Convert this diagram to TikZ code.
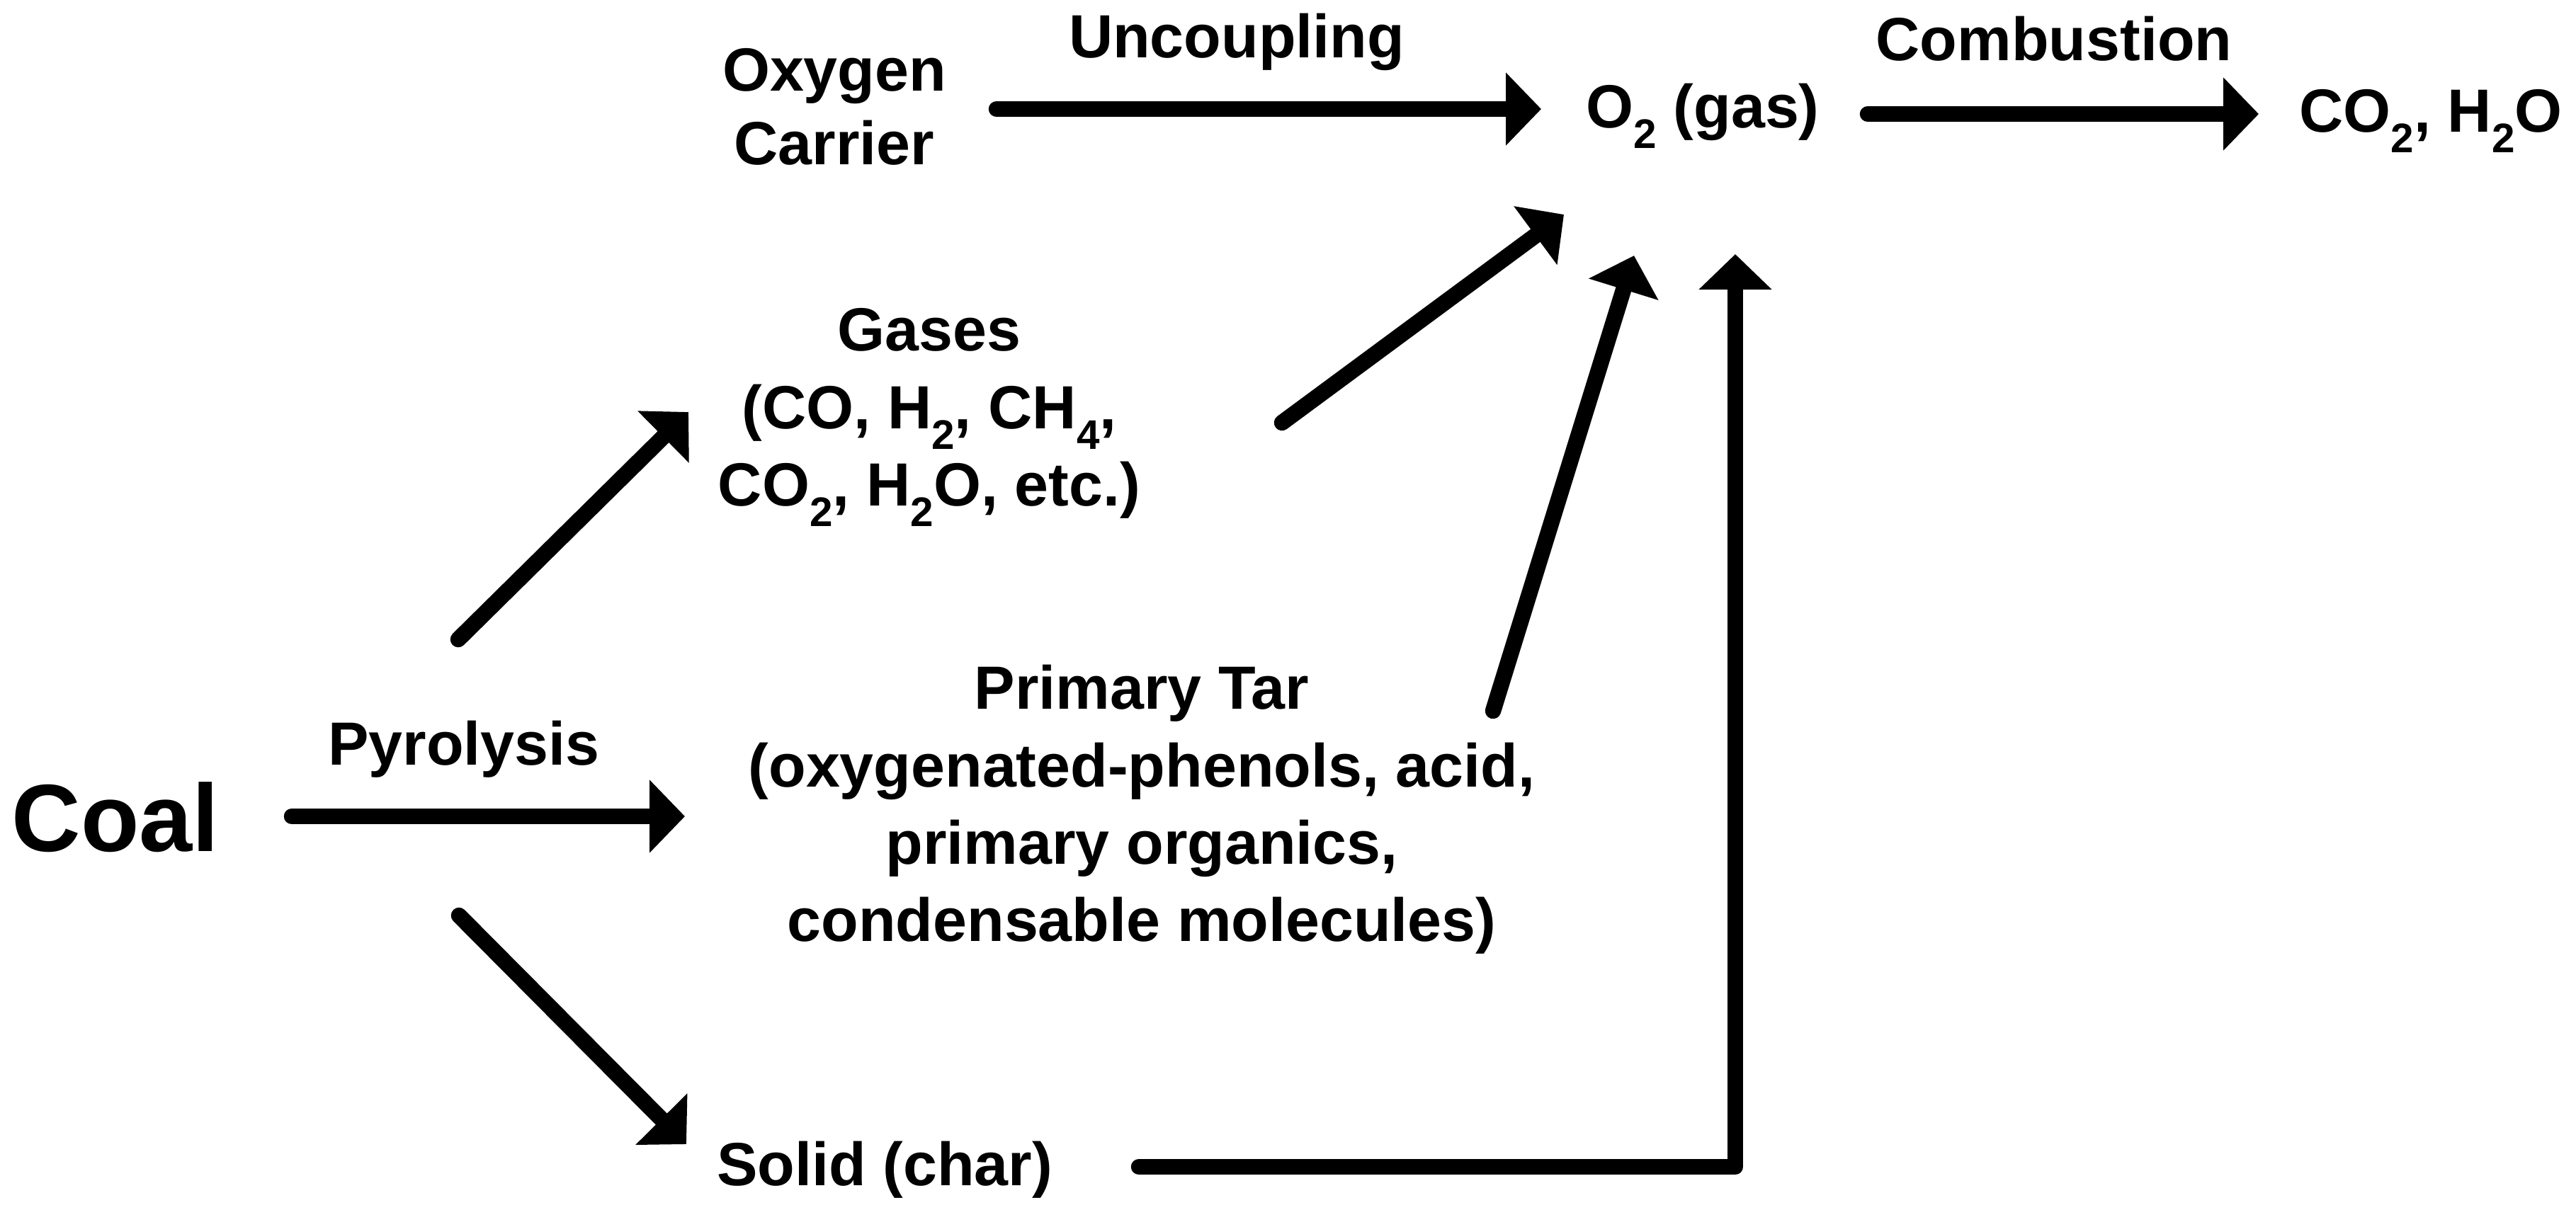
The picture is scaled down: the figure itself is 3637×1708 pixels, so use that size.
\documentclass[tikz,border=0pt]{standalone}
\usepackage{fontspec}
\setmainfont{Liberation Sans}
\usetikzlibrary{arrows.meta}
\newcommand\chemsub[1]{\raisebox{-0.34em}{\fontsize{16.6pt}{16.6pt}\selectfont #1}}
\begin{document}
\begin{tikzpicture}[x=0.01cm,y=-0.01cm,
  lbl/.style={inner sep=0pt, anchor=base, align=center,
    font=\fontsize{24.5pt}{31pt}\selectfont\bfseries},
  biglbl/.style={lbl, font=\fontsize{38.4pt}{46pt}\selectfont\bfseries},
  flow/.style={line width=6.4pt, line cap=round, line join=round,
    -{Triangle[length=14.2pt,width=28.5pt]}}]
\path[use as bounding box] (0,0) rectangle (3637,1708);

% texts (multi-line nodes: base = baseline of last line)
\node[biglbl] (coal) at (163,1202) {Coal};
\node[lbl] (pyro) at (655,1080) {Pyrolysis};
\node[lbl, font=\fontsize{24.5pt}{29.3pt}\selectfont\bfseries] (oxc) at (1178,232) {Oxygen\\Carrier};
\node[lbl] (uncoup) at (1746,81) {Uncoupling};
\node[lbl] (o2) at (2404,180) {O\chemsub{2} (gas)};
\node[lbl] (comb) at (2900,85) {Combustion};
\node[lbl] (prod) at (3432,186) {CO\chemsub{2}, H\chemsub{2}O};
\node[lbl] (gases) at (1312,714) {Gases\\(CO, H\chemsub{2}, CH\chemsub{4},\\CO\chemsub{2}, H\chemsub{2}O, etc.)};
\node[lbl] (tar) at (1612,1329) {Primary Tar\\(oxygenated-phenols, acid,\\primary organics,\\condensable molecules)};
\node[lbl] (solid) at (1249,1674) {Solid (char)};

% connector end points
\coordinate (coal-e) at (412,1153);
\coordinate (tar-w) at (967,1153);
\coordinate (coal-ne) at (647,903);
\coordinate (gases-sw) at (972,582);
\coordinate (coal-se) at (648,1293);
\coordinate (solid-nw) at (969,1616);
\coordinate (oxc-e) at (1407,154);
\coordinate (o2-w) at (2176,154);
\coordinate (gases-e) at (1810,597);
\coordinate (o2-sw) at (2208,303);
\coordinate (tar-ne) at (2108,1004);
\coordinate (o2-s) at (2307,361);
\coordinate (solid-e) at (1608,1648);
\coordinate (bend) at (2450,1648);
\coordinate (o2-se) at (2450,359);
\coordinate (o2-e) at (2637,161);
\coordinate (prod-w) at (3189,161);

% connectors
\draw[flow] (coal-e) -- (tar-w);
\draw[flow] (coal-ne) -- (gases-sw);
\draw[flow] (coal-se) -- (solid-nw);
\draw[flow] (oxc-e) -- (o2-w);
\draw[flow] (gases-e) -- (o2-sw);
\draw[flow] (tar-ne) -- (o2-s);
\draw[flow] (solid-e) -- (bend) -- (o2-se);
\draw[flow] (o2-e) -- (prod-w);
\end{tikzpicture}
\end{document}
